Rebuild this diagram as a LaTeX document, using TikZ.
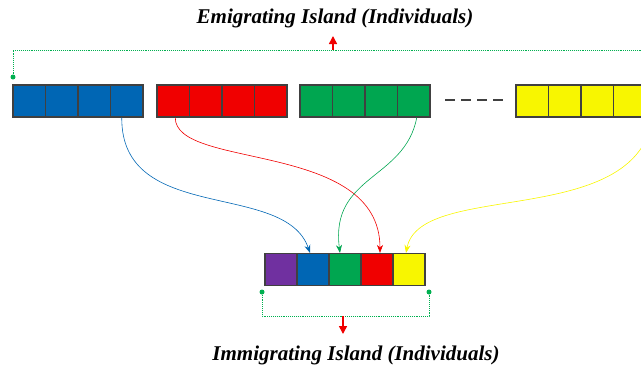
\documentclass[tikz,border=0pt]{standalone}
\usepackage{fontspec}
\setmainfont{Liberation Serif}
\usetikzlibrary{arrows.meta}
\usetikzlibrary{positioning}
\definecolor{cblue}{RGB}{0,102,180}
\definecolor{cred}{RGB}{240,0,0}
\definecolor{cgreen}{RGB}{0,166,80}
\definecolor{cyellow}{RGB}{248,246,0}
\definecolor{cpurple}{RGB}{112,48,160}
\definecolor{cgray}{RGB}{64,64,64}
\definecolor{dotgreen}{RGB}{0,176,80}
\tikzset{
    cell/.style={draw=cgray, line width=1.1pt, minimum width=32.5pt,
        minimum height=32pt, inner sep=0pt},
    bcell/.style={cell, minimum width=32pt},
    migrate/.style={line width=0.6pt, -{Stealth[length=8pt,width=6pt]}},
    bracket/.style={draw=dotgreen, densely dotted, line width=0.9pt},
    pin/.style={circle, fill=dotgreen, inner sep=0pt, minimum size=5pt},
    upshot/.style={draw=cred, line width=1.5pt, -{Triangle[length=8pt,width=8pt]}},
    title/.style={font=\fontsize{21}{24}\selectfont\bfseries\itshape},
}
\begin{document}
\begin{tikzpicture}[x=1pt, y=-1pt]
\useasboundingbox (0,0) rectangle (641,367);
% emigrating island
\foreach \c/\name/\x in {cblue/b/13, cred/r/157, cgreen/g/300, cyellow/y/516}
    \foreach \i in {1,...,4}
        \node[cell, fill=\c] (\name\i) at ({\x+16.25+32.5*(\i-1)},101) {};
\draw[cgray, line width=1.2pt, dash pattern=on 10pt off 6pt] (445,100) -- (507,100);
% immigrating island
\foreach \c/\name [count=\i] in {cpurple/p, cblue/qb, cgreen/qg, cred/qr, cyellow/qy}
    \node[bcell, fill=\c] (\name) at ({265+16+32*(\i-1)},269.5) {};
% migrations
\draw[migrate, cblue] ([xshift=-5pt]b4.south) .. controls (121,225) and (285,180) .. ([xshift=-3pt]qb.north);
\draw[migrate, cred] ([xshift=2pt]r1.south) .. controls (175,170) and (380,140) .. ([xshift=3pt]qr.north);
\draw[migrate, cgreen] ([xshift=3pt]g4.south) .. controls (405,180) and (330,175) .. ([xshift=-5pt]qg.north);
\draw[migrate, cyellow] ([xshift=23pt]y4.south) .. controls (636,230) and (420,180) .. ([xshift=-3pt]qy.north);
% brackets
\node[pin] (ptop) at (13,77) {};
\coordinate (etop) at (333,50);
\draw[bracket] (ptop) |- (641,50);
\draw[upshot] (etop) -- ++(0,-14);
\node[pin] (pl) at (262,292) {};
\node[pin] (pr) at (429,292) {};
\coordinate (ibot) at (343,316);
\draw[bracket] (pl) |- (ibot) -| (pr);
\draw[upshot] (ibot) -- ++(0,18);
% labels
\node[title] (emi) at (335,18) {Emigrating Island (Individuals)};
\node[title] (imm) at (356,355) {Immigrating Island (Individuals)};
\end{tikzpicture}
\end{document}
